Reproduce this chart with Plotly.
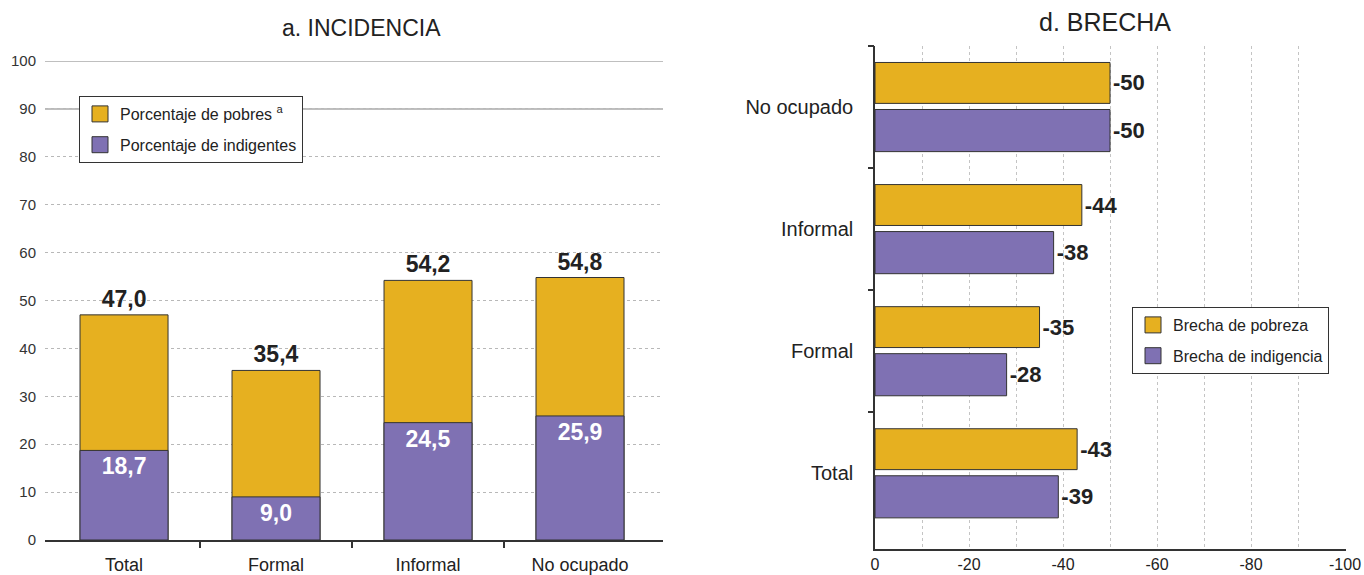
import plotly.graph_objects as go

# Panel a: incidence of poverty and indigence by labour status (%)
categorias = ["Total", "Formal", "Informal", "No ocupado"]
pobres = [47.0, 35.4, 54.2, 54.8]
indigentes = [18.7, 9.0, 24.5, 25.9]
ticks_pct = [0, 10, 20, 30, 40, 50, 60, 70, 80, 90, 100]

# Panel d: poverty and indigence gaps
brecha_cats = ["Total", "Formal", "Informal", "No ocupado"]
brecha_pobreza = [-43, -35, -44, -50]
brecha_indigencia = [-39, -28, -38, -50]
ticks_brecha = [0, -20, -40, -60, -80, -100]

AMARILLO = "#E6B020"
MORADO = "#7F71B3"
BORDE = "#333333"
TEXTO = "#222222"
FUENTE = "Liberation Sans, Arial, Helvetica, sans-serif"

W, H = 1364, 575


def fx(p):
    return p / W


def fy(p):
    return 1 - p / H


def coma(v):
    return f"{v:.1f}".replace(".", ",")


fig = go.Figure()

# --- Panel a: overlapped bars ---
fig.add_trace(go.Bar(
    x=categorias, y=pobres, xaxis="x", yaxis="y",
    width=0.579, offset=-0.2895,
    marker=dict(color=AMARILLO, line=dict(color=BORDE, width=1)),
    text=[coma(v) for v in pobres], textposition="outside",
    textfont=dict(size=23, color=TEXTO, family=FUENTE, weight="bold"),
    cliponaxis=False, showlegend=False, hoverinfo="skip",
))
fig.add_trace(go.Bar(
    x=categorias, y=indigentes, xaxis="x", yaxis="y",
    width=0.579, offset=-0.2895,
    marker=dict(color=MORADO, line=dict(color=BORDE, width=1)),
    text=[coma(v) for v in indigentes], textposition="inside",
    insidetextanchor="end", textangle=0,
    insidetextfont=dict(size=23, color="white", family=FUENTE, weight="bold"),
    showlegend=False, hoverinfo="skip",
))

# --- Panel d: horizontal bars ---
fig.add_trace(go.Bar(
    y=brecha_cats, x=brecha_pobreza, orientation="h", xaxis="x2", yaxis="y2",
    width=0.335, offset=0.03,
    marker=dict(color=AMARILLO, line=dict(color=BORDE, width=1)),
    text=[str(v) for v in brecha_pobreza], textposition="outside",
    textfont=dict(size=22, color=TEXTO, family=FUENTE, weight="bold"),
    cliponaxis=False, showlegend=False, hoverinfo="skip",
))
fig.add_trace(go.Bar(
    y=brecha_cats, x=brecha_indigencia, orientation="h", xaxis="x2", yaxis="y2",
    width=0.345, offset=-0.365,
    marker=dict(color=MORADO, line=dict(color=BORDE, width=1)),
    text=[str(v) for v in brecha_indigencia], textposition="outside",
    textfont=dict(size=22, color=TEXTO, family=FUENTE, weight="bold"),
    cliponaxis=False, showlegend=False, hoverinfo="skip",
))


# Legend entries (square swatches)
def entrada(nombre, color, leyenda, grupo, ax, ay):
    return go.Scatter(
        x=[None], y=[None], xaxis=ax, yaxis=ay, mode="markers", name=nombre,
        marker=dict(symbol="square", size=16, color=color,
                    line=dict(color=BORDE, width=1)),
        legend=leyenda, legendgroup=grupo, hoverinfo="skip",
    )


fig.add_trace(entrada("Porcentaje de pobres <sup>a</sup>", AMARILLO, "legend", "p", "x", "y"))
fig.add_trace(entrada("Porcentaje de indigentes", MORADO, "legend", "i", "x", "y"))
fig.add_trace(entrada("Brecha de pobreza", AMARILLO, "legend2", "bp", "x2", "y2"))
fig.add_trace(entrada("Brecha de indigencia", MORADO, "legend2", "bi", "x2", "y2"))

leyenda_comun = dict(
    bgcolor="white", bordercolor=BORDE, borderwidth=1,
    font=dict(size=16, color=TEXTO, family=FUENTE),
    xanchor="left", yanchor="top", tracegroupgap=7,
    traceorder="grouped", itemclick=False,
)

x1d = [fx(45), fx(663)]
y1d = [1 - 540 / H, 1 - 61 / H]
x1r = [-0.52, 3.546]
x2d = [fx(875), fx(1346)]
x2r = [0, -100.2]
y2d = [1 - 549 / H, 1 - 46 / H]
y2r = [-0.62, 3.5]

fig.update_layout(
    width=W, height=H,
    margin=dict(l=0, r=0, t=0, b=0, autoexpand=False),
    paper_bgcolor="white", plot_bgcolor="white",
    barmode="overlay",
    font=dict(family=FUENTE, color=TEXTO),
    legend=dict(x=fx(79), y=fy(96), **leyenda_comun),
    legend2=dict(x=fx(1132), y=fy(307), **leyenda_comun),
    xaxis=dict(
        domain=x1d, anchor="y", type="category", range=x1r, automargin=False,
        showline=True, linecolor=BORDE, linewidth=1.5,
        ticks="", showgrid=False,
        tickfont=dict(size=18, color=TEXTO), ticklabelstandoff=8,
    ),
    # boundary ticks between the categories of panel a
    xaxis3=dict(
        domain=x1d, anchor="y", overlaying="x", range=x1r, automargin=False,
        tickvals=[0.5, 1.5, 2.5], ticks="outside", ticklen=7, tickwidth=1.5,
        tickcolor=BORDE, showticklabels=False, showgrid=False, zeroline=False,
    ),
    yaxis=dict(
        domain=y1d, anchor="x", range=[0, 100], automargin=False,
        tickvals=ticks_pct, ticktext=[str(v) for v in ticks_pct],
        showgrid=True, gridcolor="#b8b8b8", griddash="3px,3px", gridwidth=1,
        zeroline=False, showline=False, ticks="",
        tickfont=dict(size=15, color="#333333"), ticklabelstandoff=8,
    ),
    xaxis2=dict(
        domain=x2d, anchor="y2", range=x2r, automargin=False,
        tickvals=ticks_brecha, ticktext=[str(v) for v in ticks_brecha],
        showgrid=True, gridcolor="#c4c4c4", griddash="3px,3px", gridwidth=1,
        minor=dict(dtick=10, showgrid=True, gridcolor="#c4c4c4",
                   griddash="3px,3px", gridwidth=1),
        showline=True, linecolor=BORDE, linewidth=1.5, zeroline=False,
        ticks="", tickfont=dict(size=16, color=TEXTO), ticklabelstandoff=0,
    ),
    yaxis2=dict(
        domain=y2d, anchor="x2", type="category", range=y2r, automargin=False,
        showline=True, linecolor=BORDE, linewidth=1.5, showgrid=False,
        ticks="", tickfont=dict(size=20, color=TEXTO), ticklabelstandoff=16,
    ),
    # boundary ticks between the categories of panel d
    yaxis4=dict(
        domain=y2d, anchor="x2", overlaying="y2", range=y2r, automargin=False,
        tickvals=[0.5, 1.5, 2.5, 3.5], ticks="outside", ticklen=6, tickwidth=1.5,
        tickcolor=BORDE, showticklabels=False, showgrid=False, zeroline=False,
    ),
    shapes=[
        dict(type="line", xref="x domain", yref="y", x0=0, x1=1, y0=v, y1=v,
             line=dict(color="#aaaaaa", width=1.5), layer="below")
        for v in (90, 100)
    ],
    annotations=[
        dict(text="a. INCIDENCIA", xref="paper", yref="paper",
             x=fx(361), y=fy(28), xanchor="center", yanchor="middle",
             showarrow=False, font=dict(size=23, color=TEXTO)),
        dict(text="d. BRECHA", xref="paper", yref="paper",
             x=fx(1105), y=fy(22), xanchor="center", yanchor="middle",
             showarrow=False, font=dict(size=25, color=TEXTO)),
    ],
)

# invisible anchors so the overlay tick axes are rendered
fig.add_trace(go.Scatter(x=[None], y=[None], xaxis="x3", yaxis="y",
                         showlegend=False, hoverinfo="skip"))
fig.add_trace(go.Scatter(x=[None], y=[None], xaxis="x2", yaxis="y4",
                         showlegend=False, hoverinfo="skip"))

fig.write_html("out.html")
